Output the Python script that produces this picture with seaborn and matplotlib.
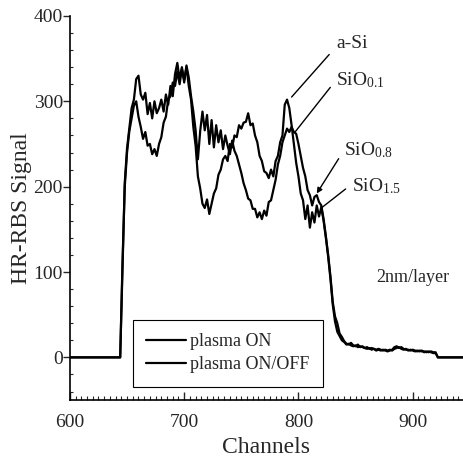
import matplotlib
matplotlib.use("Agg")
import matplotlib.pyplot as plt
import seaborn as sns
import pandas as pd
from matplotlib.ticker import MultipleLocator

# ---------------- data ----------------
channels = [600, 642,
    644, 646, 648, 650, 652, 654, 656, 658, 660, 662, 664, 666, 668, 670, 672, 674, 676, 678,
    680, 682, 684, 686, 688, 690, 692, 694, 696, 698, 700, 702, 704, 706, 708, 710, 712, 714,
    716, 718, 720, 722, 724, 726, 728, 730, 732, 734, 736, 738, 740, 742, 744, 746, 748, 750,
    752, 754, 756, 758, 760, 762, 764, 766, 768, 770, 772, 774, 776, 778, 780, 782, 784, 786,
    788, 790, 792, 794, 796, 798, 800, 802, 804, 806, 808, 810, 812, 814, 816, 818, 820, 822,
    824, 826, 828, 830, 832, 834, 836, 838, 840, 842, 844, 846, 848, 850, 852, 854, 856, 858,
    860, 862, 864, 866, 868, 870, 872, 874, 876, 878, 880, 882, 884, 886, 888, 890, 892, 894,
    896, 898, 900, 902, 904, 906, 908, 910, 912, 914, 916, 918, 920, 922,
    944]

# plasma ON/OFF (stronger modulation)
signal_onoff = [0, 0,
    0, 110, 200, 240, 265, 280, 295, 300, 282, 270, 256, 264, 248, 250, 238, 244, 236, 250,
    258, 275, 282, 302, 306, 322, 318, 335, 320, 338, 325, 340, 318, 302, 270, 248, 212, 198,
    180, 175, 185, 168, 180, 192, 198, 214, 220, 232, 236, 230, 250, 246, 260, 258, 272, 268,
    275, 276, 286, 272, 274, 260, 252, 236, 230, 218, 216, 210, 220, 212, 230, 236, 252, 260,
    296, 302, 292, 272, 250, 228, 212, 192, 184, 162, 178, 152, 170, 158, 178, 165, 176, 160,
    140, 118, 92, 62, 42, 30, 25, 20, 18, 15, 16, 14, 13, 14, 12, 13, 12, 11,
    12, 10, 11, 10, 9, 10, 9, 8, 9, 8, 9, 8, 10, 11, 12, 10, 9, 10,
    8, 9, 8, 7, 8, 7, 8, 6, 7, 6, 7, 6, 6, 0,
    0]

# plasma ON
signal_on = [0, 0,
    0, 105, 205, 245, 268, 292, 302, 326, 330, 308, 302, 310, 285, 298, 280, 300, 286, 292,
    302, 288, 308, 296, 318, 306, 332, 345, 326, 340, 322, 342, 328, 306, 288, 266, 232, 265,
    288, 266, 284, 250, 278, 246, 272, 252, 266, 244, 260, 248, 238, 254, 242, 236, 226, 216,
    204, 196, 186, 184, 174, 174, 164, 170, 162, 172, 166, 182, 184, 196, 208, 226, 236, 252,
    260, 268, 264, 270, 264, 262, 250, 236, 222, 212, 196, 190, 178, 188, 190, 182, 178, 162,
    142, 120, 95, 65, 48, 40, 28, 24, 19, 16, 15, 17, 14, 13, 15, 12, 13, 11,
    10, 11, 9, 10, 8, 9, 8, 9, 8, 7, 8, 9, 12, 13, 11, 12, 10, 9,
    9, 8, 9, 8, 7, 8, 7, 7, 6, 7, 6, 5, 5, 0,
    0]

series_names = ["plasma ON", "plasma ON/OFF"]
x_ticks = [600, 700, 800, 900]
y_ticks = [0, 100, 200, 300, 400]

df = pd.concat([
    pd.DataFrame({"Channels": channels, "Signal": signal_on, "Series": series_names[0]}),
    pd.DataFrame({"Channels": channels, "Signal": signal_onoff, "Series": series_names[1]}),
], ignore_index=True)

# ---------------- style ----------------
sns.set_style("ticks")
plt.rcParams["font.family"] = ["Liberation Serif", "DejaVu Serif"]
plt.rcParams["mathtext.fontset"] = "custom"
plt.rcParams["mathtext.rm"] = "Liberation Serif"
plt.rcParams["mathtext.it"] = "Liberation Serif"

fig = plt.figure(figsize=(4.63, 4.69), dpi=100)
ax = fig.add_axes([0.151, 0.147, 0.849, 0.819])

sns.lineplot(data=df, x="Channels", y="Signal", hue="Series", hue_order=series_names,
             palette={series_names[0]: "black", series_names[1]: "black"},
             estimator=None, sort=False, linewidth=1.6, ax=ax, legend=True)

ax.set_xlim(600, 944)
ax.set_ylim(-50, 400)
ax.set_xticks(x_ticks)
ax.set_yticks(y_ticks)
ax.xaxis.set_minor_locator(MultipleLocator(5))
ax.yaxis.set_minor_locator(MultipleLocator(20))
ax.tick_params(axis="x", which="major", direction="in", length=6, width=1, labelsize=14, pad=10)
ax.tick_params(axis="x", which="minor", direction="in", length=3, width=0.8)
ax.tick_params(axis="y", which="major", direction="out", length=5, width=1, labelsize=14, pad=0)
ax.tick_params(axis="y", which="minor", direction="in", length=2, width=0.8)
for s in ["top", "right"]:
    ax.spines[s].set_visible(False)
for s in ["left", "bottom"]:
    ax.spines[s].set_linewidth(1.2)
    ax.spines[s].set_color("black")

ax.set_xlabel("Channels", fontsize=17, labelpad=4)
ax.set_ylabel("HR-RBS Signal", fontsize=17, labelpad=1)

# legend
handles, labels = ax.get_legend_handles_labels()
leg = ax.legend(handles, labels, loc="lower left", bbox_to_anchor=(0.160, 0.034),
                frameon=True, fancybox=False, edgecolor="black", facecolor="none", framealpha=1,
                fontsize=13, handlelength=2.2, handletextpad=0.2, borderpad=0.75,
                labelspacing=0.35, borderaxespad=0)
leg.get_frame().set_linewidth(0.8)
for line in leg.get_lines():
    line.set_linewidth(1.6)

# annotations
ax.annotate("a-Si", xy=(794, 305), xytext=(833, 368), fontsize=14, ha="left", va="center",
            arrowprops=dict(arrowstyle="-", color="black", lw=1, relpos=(0, 0.3), shrinkA=4, shrinkB=0))
ax.annotate(r"SiO$_{\mathrm{0.1}}$", xy=(797, 264), xytext=(833, 325), fontsize=14, ha="left", va="center",
            arrowprops=dict(arrowstyle="-", color="black", lw=1, relpos=(0, 0.5), shrinkA=3, shrinkB=0))
ax.annotate(r"SiO$_{\mathrm{0.8}}$", xy=(816, 192), xytext=(840, 243), fontsize=14, ha="left", va="center",
            arrowprops=dict(arrowstyle="-|>", color="black", lw=1, relpos=(0, 0.5), shrinkA=3, shrinkB=0,
                            mutation_scale=8))
ax.annotate(r"SiO$_{\mathrm{1.5}}$", xy=(820, 175), xytext=(847, 201), fontsize=14, ha="left", va="center",
            arrowprops=dict(arrowstyle="-", color="black", lw=1, relpos=(0, 0.6), shrinkA=3, shrinkB=0))
ax.text(900, 93, "2nm/layer", fontsize=13, ha="center", va="center")

fig.savefig("out.png", dpi=100)
